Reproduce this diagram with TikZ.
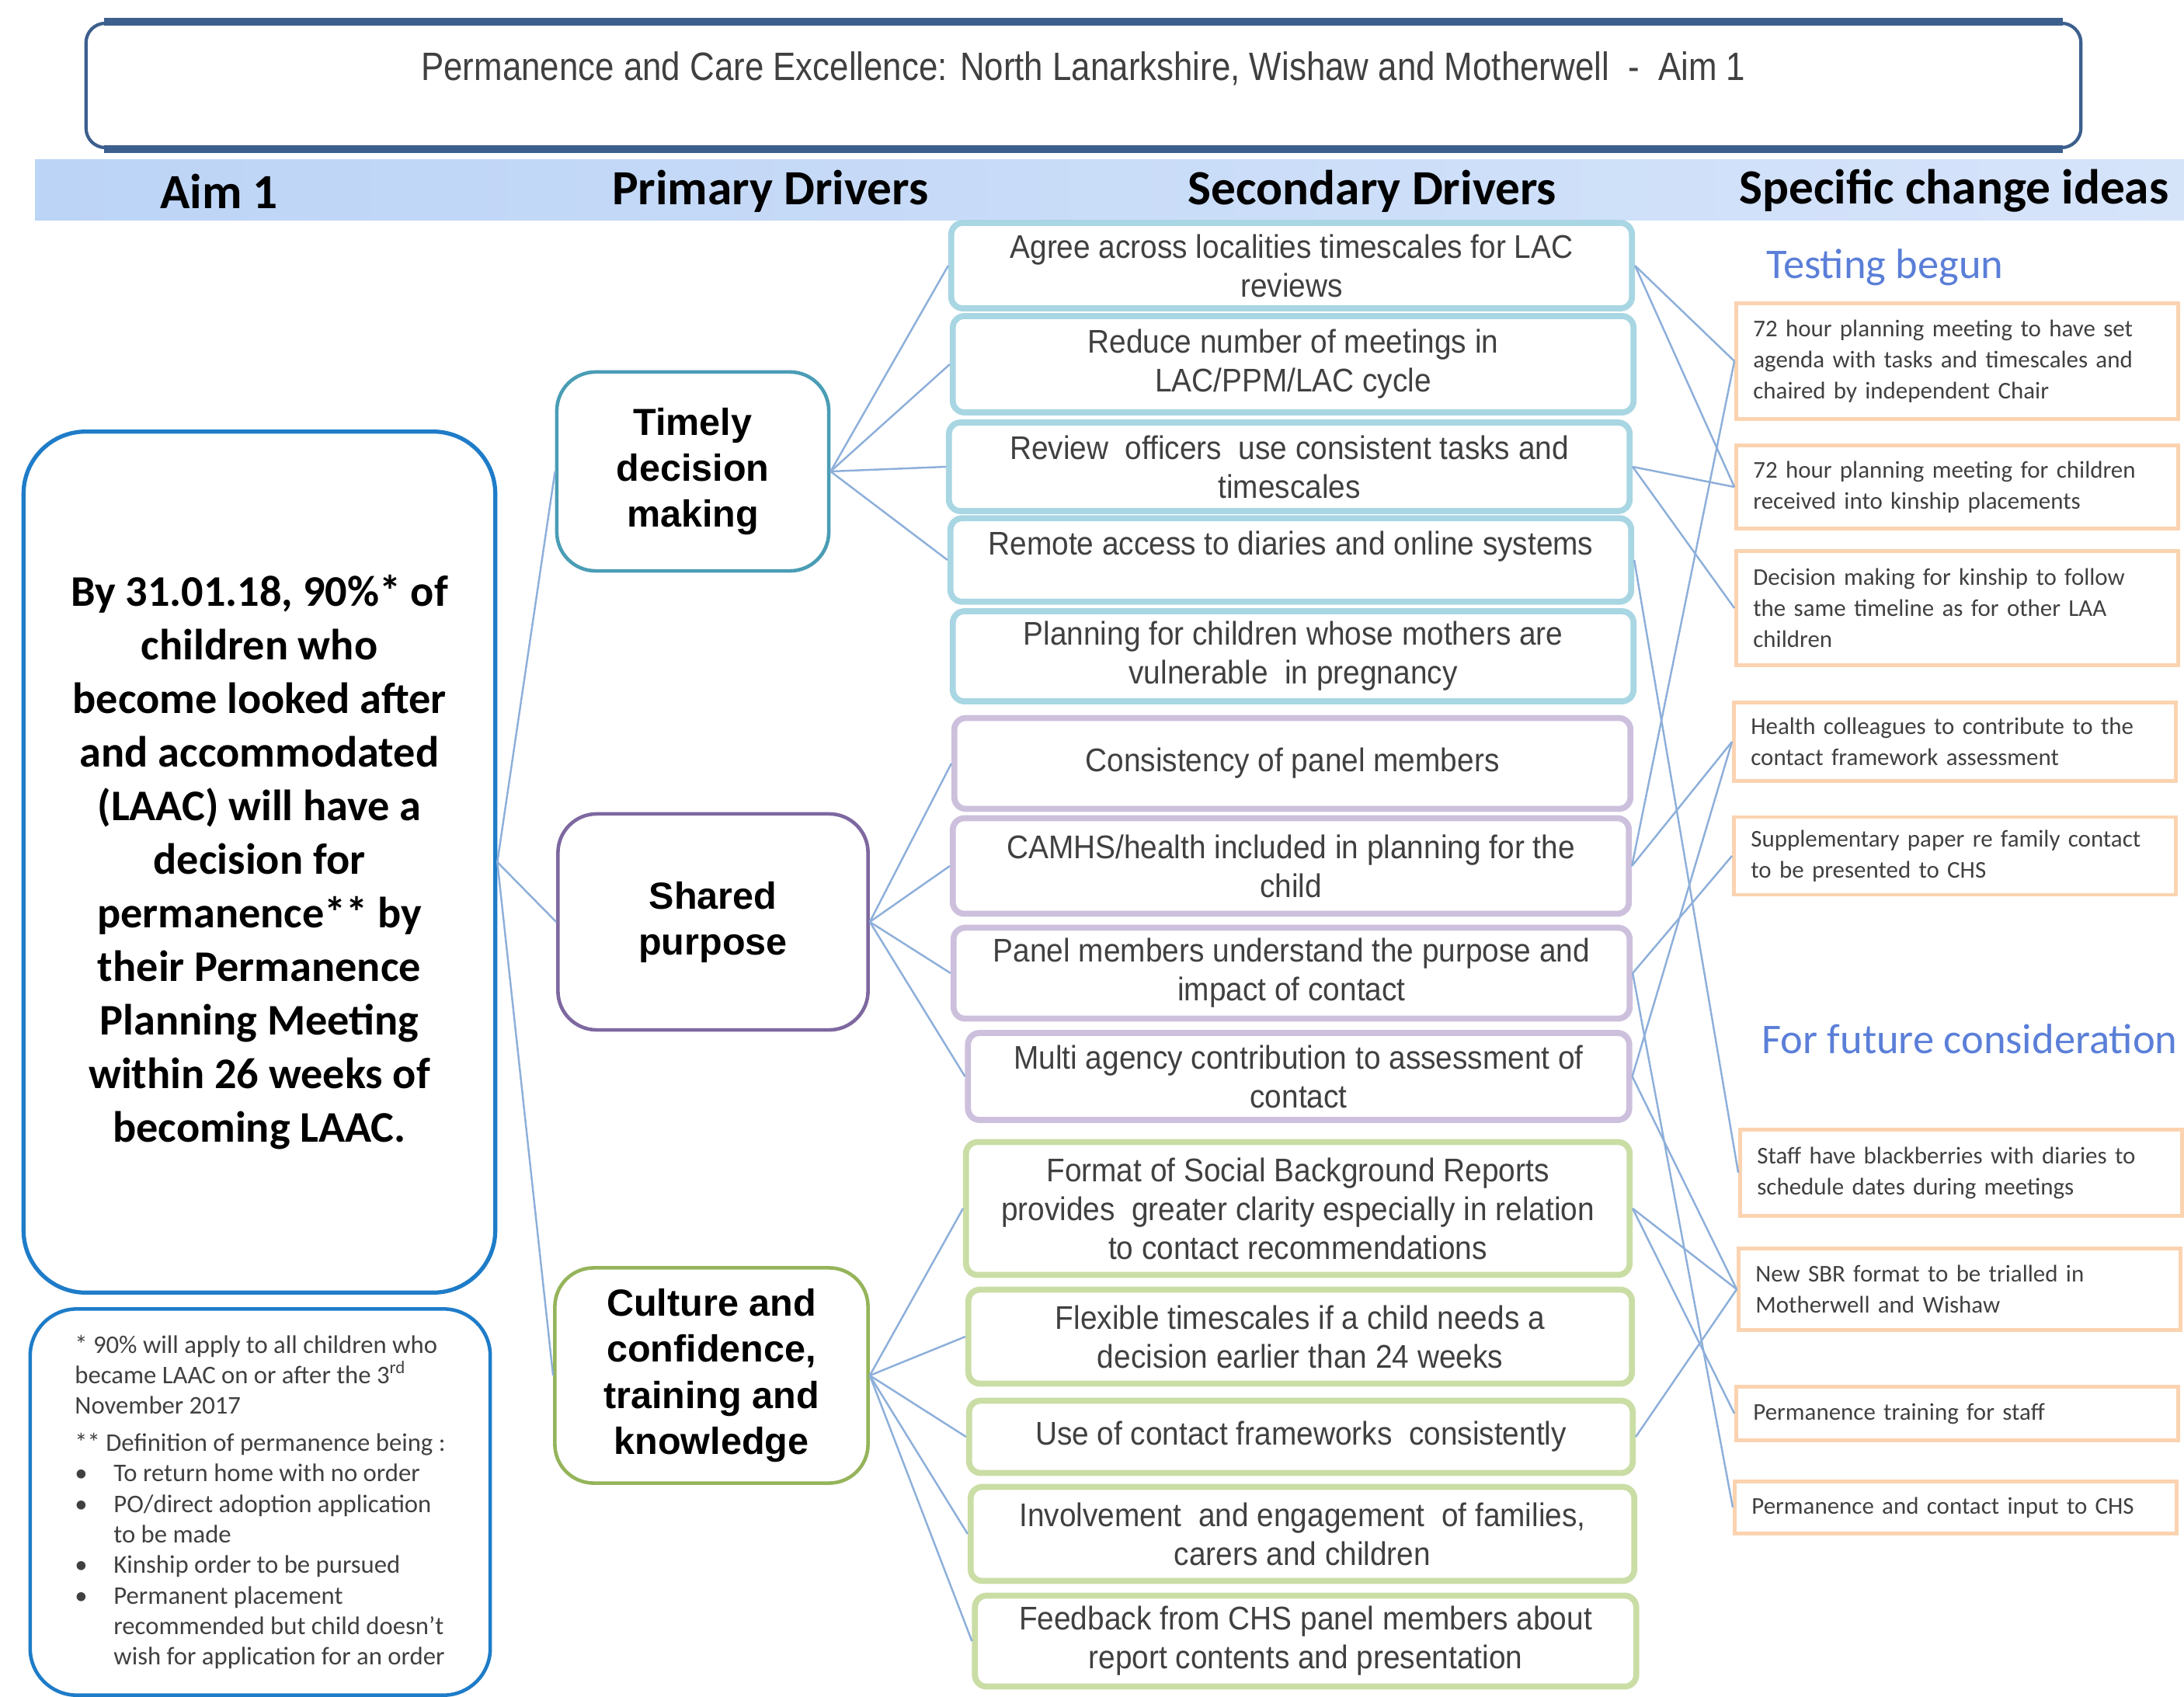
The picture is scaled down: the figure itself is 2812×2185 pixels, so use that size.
\documentclass[tikz,border=0pt]{standalone}
\usepackage{fontspec}
\setmainfont{Carlito}
\newfontfamily\arialfont{Liberation Sans}
\newfontfamily\narrowfont[FakeStretch=0.92]{Liberation Sans}
\newfontfamily\titlefont[FakeStretch=0.86]{Liberation Sans}
\usetikzlibrary{positioning}
\definecolor{titleblue}{HTML}{3C5F8D}
\definecolor{aimblue}{HTML}{1E7CC8}
\definecolor{bandleft}{HTML}{BCD4F6}
\definecolor{bandright}{HTML}{D6E4FA}
\definecolor{timelyc}{HTML}{4A9DB5}
\definecolor{sharedc}{HTML}{7E68A0}
\definecolor{culturec}{HTML}{95B45A}
\definecolor{timelyl}{HTML}{A8D6E3}
\definecolor{sharedl}{HTML}{CDC0DD}
\definecolor{culturel}{HTML}{CADDA5}
\definecolor{linkblue}{HTML}{8DAFDA}
\definecolor{ideaorange}{HTML}{FBD3B0}
\definecolor{testblue}{HTML}{5B7FD8}
\definecolor{textgrey}{HTML}{404040}

\begin{document}
\begin{tikzpicture}[x=0.01cm,y=-0.01cm]
\tikzstyle{frame}=[draw=titleblue, line width=1.2pt, rounded corners=0.25cm]
\tikzstyle{titlerule}=[draw=titleblue, line width=3pt]
\tikzstyle{colhead}=[font=\bfseries\fontsize{18}{22}\selectfont]
\tikzstyle{aimbox}=[draw=aimblue, line width=1.5pt, rounded corners=0.8cm, align=center, font=\bfseries\fontsize{16}{19.6}\selectfont]
\tikzstyle{notebox}=[draw=aimblue, line width=1.3pt, rounded corners=0.6cm, align=left, text=textgrey, font=\fontsize{9.3}{11.2}\selectfont]
\tikzstyle{driver}=[draw, rounded corners=0.5cm, line width=1.3pt, align=center, font=\arialfont\bfseries\fontsize{13.8}{16.8}\selectfont]
\tikzstyle{second}=[draw, rounded corners=0.15cm, line width=2.2pt, align=center, text=textgrey, font=\narrowfont\fontsize{12}{14.2}\selectfont]
\tikzstyle{secT}=[second, draw=timelyl, minimum width=8.76cm]
\tikzstyle{secS}=[second, draw=sharedl, minimum width=8.7cm]
\tikzstyle{secC}=[second, draw=culturel, minimum width=8.54cm]
\tikzstyle{idea}=[draw=ideaorange, line width=1.3pt, align=left, text width=5.25cm, inner xsep=0.22cm, text=textgrey, font=\fontsize{8.8}{11.4}\selectfont]
\tikzstyle{group}=[text=testblue, font=\fontsize{15.5}{18}\selectfont]
\tikzstyle{link}=[draw=linkblue, line width=0.7pt]
\useasboundingbox (0,0) rectangle (2812,2185);

\node[frame, minimum width=25.67cm, minimum height=1.6cm, text=textgrey, font=\titlefont\fontsize{14.5}{16}\selectfont, text height=0.4cm, text depth=0.52cm] (titlebox) at (1395,110) {Permanence and Care Excellence: North Lanarkshire, Wishaw and Motherwell \ - \ Aim 1};
\draw[titlerule] ([xshift=0.25cm]titlebox.north west) -- ([xshift=-0.25cm]titlebox.north east);
\draw[titlerule] ([xshift=0.25cm]titlebox.south west) -- ([xshift=-0.25cm]titlebox.south east);

\shade[left color=bandleft, right color=bandright] (45,206) rectangle (2812,283);
\node[colhead] (haim) at (282,246) {Aim 1};
\node[colhead] (hprim) at (992,246) {Primary Drivers};
\node[colhead] (hsec) at (1767,246) {Secondary Drivers};
\node[colhead] (hidea) at (2516,246) {Specific change ideas};

\node[aimbox, minimum width=6.07cm, minimum height=11.08cm] (aim) at (334,1110) {By 31.01.18, 90\%* of\\children who\\become looked after\\and accommodated\\(LAAC) will have a\\decision for\\permanence** by\\their Permanence\\Planning Meeting\\within 26 weeks of\\becoming LAAC.};
\node[notebox, minimum width=5.92cm, minimum height=4.97cm] (note) at (335,1934) {* 90\% will apply to all children who\\became LAAC on or after the 3\textsuperscript{rd}\\November 2017\\[0.08cm]** Definition of permanence being :\\\makebox[0.5cm][l]{\textbullet}To return home with no order\\\makebox[0.5cm][l]{\textbullet}PO/direct adoption application\\\hspace*{0.5cm}to be made\\\makebox[0.5cm][l]{\textbullet}Kinship order to be pursued\\\makebox[0.5cm][l]{\textbullet}Permanent placement\\\hspace*{0.5cm}recommended but child doesn't\\\hspace*{0.5cm}wish for application for an order};

\node[driver, draw=timelyc, minimum width=3.5cm, minimum height=2.56cm] (timely) at (892,607) {Timely\\decision\\making};
\node[driver, draw=sharedc, minimum width=3.99cm, minimum height=2.78cm] (shared) at (918,1187) {Shared\\purpose};
\node[driver, draw=culturec, minimum width=4.03cm, minimum height=2.77cm] (culture) at (916,1771) {Culture and\\confidence,\\training and\\knowledge};

\node[secT, minimum height=1.1cm] (agree) at (1663,342) {Agree across localities timescales for LAC\\reviews};
\node[secT, minimum height=1.24cm] (reduce) at (1665,469) {Reduce number of meetings in\\LAC/PPM/LAC cycle};
\node[secT, minimum height=1.14cm] (review) at (1660,601) {Review \ officers \ use consistent tasks and\\timescales};
\node[secT, minimum height=1.06cm, text height=0.35cm, text depth=0.49cm] (remote) at (1662,721) {Remote access to diaries and online systems};
\node[secT, minimum height=1.16cm] (planning) at (1665,845) {Planning for children whose mothers are\\vulnerable \ in pregnancy};
\node[secS, minimum height=1.17cm] (consist) at (1664,983) {Consistency of panel members};
\node[secS, minimum height=1.23cm] (camhs) at (1662,1115) {CAMHS/health included in planning for the\\child};
\node[secS, minimum height=1.17cm] (panel) at (1663,1253) {Panel members understand the purpose and\\impact of contact};
\node[secS, minimum width=8.51cm, minimum height=1.12cm] (multi) at (1672,1386) {Multi agency contribution to assessment of\\contact};
\node[secC, minimum height=1.71cm] (format) at (1671,1556) {Format of Social Background Reports\\provides \ greater clarity especially in relation\\to contact recommendations};
\node[secC, minimum height=1.21cm] (flexible) at (1674,1721) {Flexible timescales if a child needs a\\decision earlier than 24 weeks};
\node[secC, minimum height=0.93cm] (usecontact) at (1675,1850) {Use of contact frameworks \ consistently};
\node[secC, minimum height=1.21cm] (involve) at (1677,1975) {Involvement \ and engagement \ of families,\\carers and children};
\node[secC, minimum width=8.51cm, minimum height=1.17cm] (feedback) at (1681,2113) {Feedback from CHS panel members about\\report contents and presentation};

\node[group] (testing) at (2427,344) {Testing begun};
\node[idea, minimum height=1.49cm] (agenda) at (2520,465) {72 hour planning meeting to have set\\agenda with tasks and timescales and\\chaired by independent Chair};
\node[idea, minimum height=1.07cm] (kinship) at (2520,627) {72 hour planning meeting for children\\received into kinship placements};
\node[idea, minimum height=1.47cm] (timeline) at (2520,783) {Decision making for kinship to follow\\the same timeline as for other LAA\\children};
\node[idea, minimum height=1.01cm] (health) at (2517,955) {Health colleagues to contribute to the\\contact framework assessment};
\node[idea, minimum height=1.0cm] (supplement) at (2517,1102) {Supplementary paper re family contact\\to be presented to CHS};
\node[group, anchor=west] (future) at (2256,1338) {For future consideration};
\node[idea, minimum height=1.11cm] (diaries) at (2525,1510) {Staff have blackberries with diaries to\\schedule dates during meetings};
\node[idea, minimum height=1.05cm] (sbr) at (2523,1660) {New SBR format to be trialled in\\Motherwell and Wishaw};
\node[idea, minimum height=0.69cm] (training) at (2520,1820) {Permanence training for staff};
\node[idea, minimum height=0.67cm] (chsinput) at (2518,1941) {Permanence and contact input to CHS};

\foreach \p in {timely,shared,culture}
  \draw[link] (aim.east) -- (\p.west);
\foreach \s in {agree,reduce,review,remote}
  \draw[link] (timely.east) -- (\s.west);
\foreach \s in {consist,camhs,panel,multi}
  \draw[link] (shared.east) -- (\s.west);
\foreach \s in {format,flexible,usecontact,involve,feedback}
  \draw[link] (culture.east) -- (\s.west);
\foreach \s/\i in {agree/agenda,agree/kinship,review/kinship,review/timeline,remote/diaries,camhs/agenda,camhs/health,multi/health,panel/supplement,panel/chsinput,multi/sbr,format/sbr,format/training,usecontact/sbr}
  \draw[link] (\s.east) -- (\i.west);
\end{tikzpicture}
\end{document}
